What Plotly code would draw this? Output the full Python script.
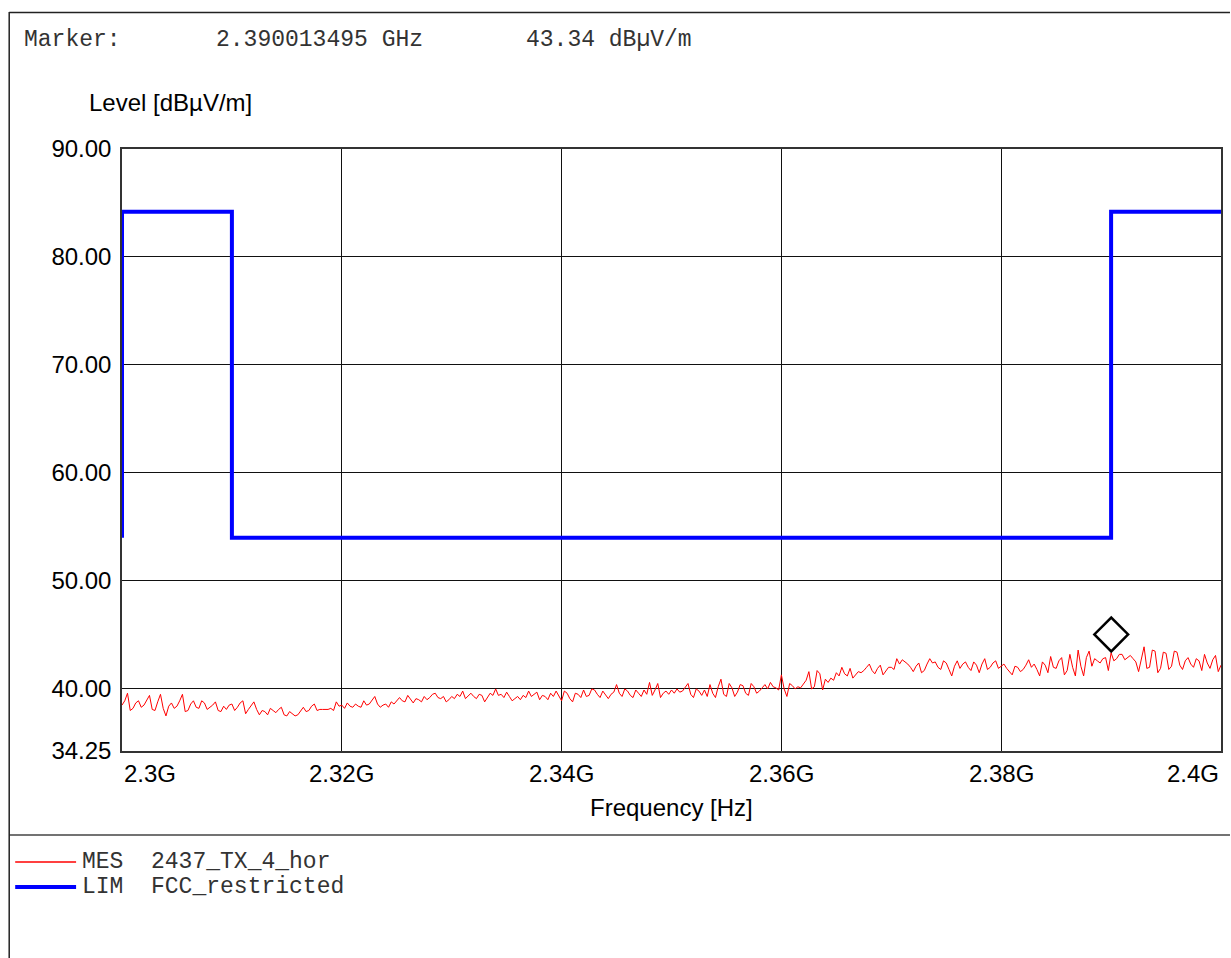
import plotly.graph_objects as go

# ---------------- data ----------------
start_hz = 2.300e9
stop_hz = 2.400e9
mes_level = [
    38.5, 38.9, 39.6, 38.0, 38.2, 38.7, 38.9, 38.3, 38.5, 38.9,
    39.4, 38.1, 38.0, 38.8, 39.5, 38.2, 37.5, 38.4, 38.7, 38.2,
    38.4, 38.9, 39.5, 37.9, 38.0, 38.6, 38.9, 38.3, 38.2, 38.9,
    38.7, 38.1, 38.3, 38.5, 38.8, 38.0, 37.9, 38.4, 38.1, 38.5,
    38.6, 38.0, 38.3, 38.7, 38.9, 37.7, 38.1, 38.4, 38.8, 38.1,
    37.6, 38.0, 37.9, 37.6, 38.2, 38.0, 37.8, 38.1, 38.3, 37.6,
    37.5, 37.9, 37.7, 37.5, 37.6, 37.9, 38.3, 37.9, 38.0, 38.4,
    38.6, 38.0, 38.1, 38.1, 38.1, 38.1, 38.2, 38.0, 38.8, 38.4,
    38.5, 38.2, 38.7, 38.4, 38.3, 38.6, 38.4, 38.3, 38.9, 38.5,
    38.6, 39.0, 39.3, 38.6, 38.3, 38.5, 38.6, 38.3, 38.8, 38.6,
    38.9, 39.2,
    38.9, 38.8, 39.4, 39.0, 38.7, 39.1, 39.0, 38.8, 39.3, 39.0,
    39.2, 39.5, 39.6, 39.2, 39.1, 39.3, 38.8, 39.0, 39.3, 39.1,
    39.5, 39.3, 39.8, 39.1, 39.4, 39.6, 39.3, 39.1, 39.5, 39.4,
    38.8, 39.2, 39.6, 39.4, 40.0, 39.4, 39.5, 39.2, 39.7, 39.3,
    38.9, 39.1, 39.3, 39.0, 39.4, 39.2, 39.8, 39.3, 39.5, 39.7,
    39.0, 39.4, 39.3, 39.0, 39.6, 39.3, 39.8, 39.4, 38.9, 39.8,
    39.6, 39.1, 38.8, 39.6, 39.5, 39.2, 39.9, 39.3, 39.4, 40.0,
    39.9, 39.5, 39.2, 39.8, 39.4, 39.1, 39.5, 39.7, 40.4, 39.6,
    39.3, 40.0, 39.8, 39.4, 39.2, 39.9, 39.6, 39.3, 39.9, 39.5,
    40.6, 39.4, 39.9, 40.5, 39.2, 39.6, 39.8, 39.5, 39.9, 39.6,
    40.0, 39.7, 39.8, 40.2, 40.5, 39.5, 39.2, 40.0, 39.8, 39.4,
    39.9, 39.3, 40.4, 39.6, 39.2, 40.2, 40.9, 39.5, 39.3, 40.5,
    40.1, 39.3, 39.7, 40.4, 40.3, 39.6, 39.4, 40.5, 40.2, 39.6,
    39.8, 40.1, 40.4, 40.0, 40.6, 40.2, 40.1, 39.9, 41.3, 40.0,
    39.3, 40.5, 40.3, 40.0, 40.2, 40.1, 40.4, 40.8, 41.6, 40.0,
    40.2, 41.7, 41.4, 39.9, 40.9, 40.6, 41.0, 40.8, 41.5, 41.2,
    42.0, 41.4, 41.2, 41.9, 41.0, 41.3, 41.6, 41.5, 41.7, 42.0,
    42.3, 41.7, 41.4, 41.9, 42.2, 41.3, 41.6, 42.0, 42.0, 41.8,
    42.8, 42.3, 42.7, 42.5, 42.3, 42.0, 41.6, 42.1, 42.4, 41.5,
    41.7, 42.3, 42.8, 42.4, 42.5, 42.0, 41.8, 42.6, 42.4, 41.8,
    41.2, 42.1, 42.6, 41.9, 42.3, 42.5, 42.0, 41.7, 42.5, 42.2,
    41.5, 42.3, 42.8, 41.8, 42.0, 42.4, 42.6, 41.9, 42.1, 42.3,
    41.9, 41.6, 41.3, 42.1, 42.0, 41.6, 41.8, 42.2, 42.7, 42.0,
    42.3, 41.8, 41.2, 42.5, 42.2, 41.5, 43.0, 42.0, 41.9, 42.6,
    42.9, 41.3, 41.7, 43.2, 42.0, 41.2, 43.6, 42.1, 41.2, 42.9,
    43.5, 42.1, 42.8, 42.6, 42.4, 42.8, 42.9, 41.7, 43.34, 42.6,
    42.8, 43.2, 43.2, 42.7, 42.9, 43.1, 42.8, 42.5, 41.6, 42.7,
    43.9, 41.9, 42.0, 43.6, 43.5, 41.5, 41.9, 43.4, 43.3, 41.8,
    42.1, 43.5, 43.4, 42.2, 41.8, 42.6, 42.9, 42.3, 42.0, 42.8,
    42.6, 41.7, 43.2, 42.4, 41.9, 42.7, 43.1, 41.6, 42.2,
]
n_pts = len(mes_level)
mes_freq = [start_hz + i * (stop_hz - start_hz) / (n_pts - 1) for i in range(n_pts)]

lim_freq_ghz = [2.300, 2.300, 2.310, 2.310, 2.390, 2.390, 2.400]
lim_level = [54.0, 84.2, 84.2, 54.0, 54.0, 84.2, 84.2]
lim_freq = [f * 1e9 for f in lim_freq_ghz]

marker_freq = 2.390013495e9
marker_level = 43.34

y_ticks = [34.25, 40, 50, 60, 70, 80, 90]
x_tick_ghz = [2.30, 2.32, 2.34, 2.36, 2.38, 2.40]
x_tick_text = ["2.3G", "2.32G", "2.34G", "2.36G", "2.38G", "2.4G"]

series_names = ["MES  2437_TX_4_hor", "LIM  FCC_restricted"]

# ---------------- layout geometry (pixels) ----------------
W, H = 1231, 958
L, R, T, B = 122, 1223, 149, 751
PW, PH = R - L, B - T


def px(xp):
    return (xp - L) / PW


def py(yp):
    return (B - yp) / PH


SANS = "Liberation Sans, Arial, sans-serif"
MONO = "Liberation Mono, Courier New, monospace"

fig = go.Figure()
fig.add_trace(go.Scatter(x=mes_freq, y=mes_level, mode="lines",
                         line=dict(color="#ff0000", width=1), showlegend=False))
fig.add_trace(go.Scatter(x=lim_freq, y=lim_level, mode="lines",
                         line=dict(color="#0000ff", width=4), showlegend=False))
fig.add_trace(go.Scatter(x=[marker_freq], y=[marker_level + 1.7], mode="markers",
                         marker=dict(symbol="diamond-open", size=26,
                                     color="black", line=dict(color="black", width=2.5)),
                         showlegend=False, cliponaxis=False))

fig.update_layout(
    width=W, height=H, autosize=False,
    margin=dict(l=L, r=W - R, t=T, b=H - B),
    paper_bgcolor="white", plot_bgcolor="white",
    showlegend=False,
    font=dict(family=SANS, size=24, color="black"),
)
fig.update_xaxes(range=[start_hz, stop_hz], tickvals=[f * 1e9 for f in x_tick_ghz],
                 showticklabels=False, ticks="", showgrid=True,
                 gridcolor="#111111", gridwidth=1, zeroline=False,
                 showline=True, linecolor="#333333", linewidth=1.5, mirror=True)
fig.update_yaxes(range=[34.25, 90], tickvals=y_ticks,
                 ticktext=[f"{v:.2f}" for v in y_ticks], ticks="",
                 ticklabelstandoff=4,
                 tickfont=dict(family=SANS, size=24, color="black"),
                 showgrid=True, gridcolor="#111111", gridwidth=1, zeroline=False,
                 showline=True, linecolor="#333333", linewidth=1.5, mirror=True)

ann = []
for i, (f, t) in enumerate(zip(x_tick_ghz, x_tick_text)):
    anchor = "left" if i == 0 else ("right" if i == len(x_tick_ghz) - 1 else "center")
    ann.append(dict(x=f * 1e9, xref="x", y=0, yref="paper", text=t, showarrow=False,
                    xanchor=anchor, yanchor="middle", yshift=-22,
                    font=dict(family=SANS, size=24, color="black")))
ann.append(dict(x=0.5, xref="paper", y=0, yref="paper", text="Frequency [Hz]",
                showarrow=False, xanchor="center", yanchor="middle", yshift=-56,
                font=dict(family=SANS, size=24, color="black")))
ann.append(dict(x=px(87), xref="paper", y=py(102), yref="paper", text="Level [dBµV/m]",
                showarrow=False, xanchor="left", yanchor="middle",
                font=dict(family=SANS, size=24, color="black")))

header = [(22, "Marker:"), (214, f"{marker_freq / 1e9:.9f} GHz"),
          (525, f"{marker_level:.2f} dBµV/m")]
for xp, t in header:
    ann.append(dict(x=px(xp), xref="paper", y=py(40), yref="paper", text=t,
                    showarrow=False, xanchor="left", yanchor="middle",
                    font=dict(family=MONO, size=23, color="#333333")))

legend_rows = [(862, "#ff0000", 1.5, series_names[0]), (887, "#0000ff", 4, series_names[1])]
shapes = []
for yp, col, lw, name in legend_rows:
    shapes.append(dict(type="line", xref="paper", yref="paper",
                       x0=px(15), x1=px(76), y0=py(yp), y1=py(yp),
                       line=dict(color=col, width=lw)))
    ann.append(dict(x=px(80), xref="paper", y=py(yp), yref="paper", text=name,
                    showarrow=False, xanchor="left", yanchor="middle",
                    font=dict(family=MONO, size=23, color="#333333")))

# frame lines
shapes.append(dict(type="line", xref="paper", yref="paper", x0=px(9), x1=px(1232),
                   y0=py(12.5), y1=py(12.5), line=dict(color="#222222", width=1.5)))
shapes.append(dict(type="line", xref="paper", yref="paper", x0=px(9), x1=px(1232),
                   y0=py(835), y1=py(835), line=dict(color="#444444", width=1.5)))
shapes.append(dict(type="line", xref="paper", yref="paper", x0=px(9), x1=px(9),
                   y0=py(12), y1=py(960), line=dict(color="#222222", width=1.5)))

fig.update_layout(annotations=ann, shapes=shapes)
fig.write_html("out.html", config={"displayModeBar": False},
               post_script="document.body.style.margin='0';document.body.style.overflow='hidden';")
